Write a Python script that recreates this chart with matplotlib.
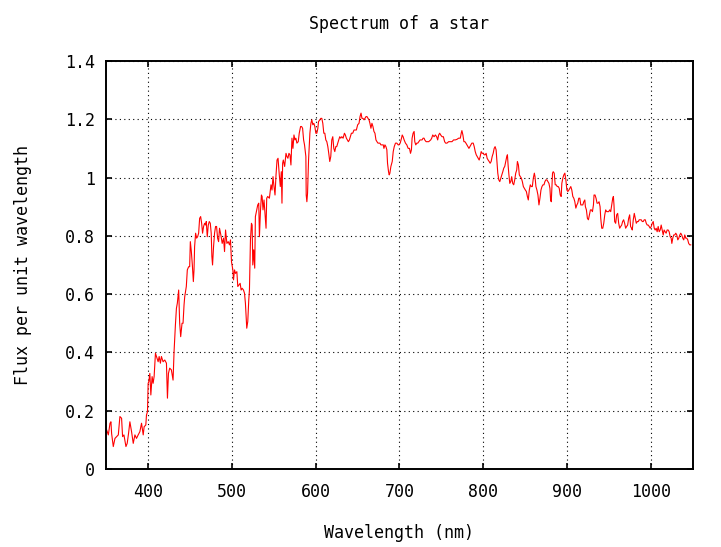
import matplotlib
matplotlib.use("Agg")
import matplotlib.pyplot as plt
from matplotlib.ticker import FixedLocator, FixedFormatter

# spectrum: wavelength (nm) and flux
wavelength = [
    350.8, 352.8, 354.8, 355.9, 356.7, 358.7, 360.7, 362.7, 364.7, 366.6,
    368.6, 369.8, 371.4, 373.8, 375.3, 376.9, 378.5, 380.5, 382.5, 384.5,
    386.4, 388.4, 390.4, 392.4, 394.4, 395.5, 397.5, 398.3, 399.5, 400.3,
    401.1, 402.3, 403.5, 405.0, 406.2, 407.4, 409.0, 410.2, 412.2, 413.4,
    414.9, 416.1, 418.1, 420.1, 422.1, 423.3, 424.5, 426.0, 428.0, 430.0,
    431.2, 432.8, 434.0, 435.1, 436.7, 437.9, 439.1, 440.7, 441.9, 443.1,
    443.9, 445.8, 447.0, 448.6, 449.8, 450.6, 451.8, 453.0, 454.2, 455.0,
    455.7, 456.9, 458.1, 459.3, 460.5, 461.7, 462.9, 464.1, 465.2, 466.4,
    467.6, 468.8, 469.6, 470.8, 472.0, 473.2, 474.4, 475.5, 476.3, 477.1,
    478.3, 479.5, 480.7, 481.9, 483.1, 484.3, 485.4,
    487.0, 488.6, 490.2, 491.4, 492.6, 494.2, 495.8, 497.3, 498.5, 499.7,
    501.3, 502.1, 503.3, 504.5, 506.1, 507.2, 508.4, 510.0, 511.2, 512.4,
    514.0, 515.2, 516.3, 517.9, 519.1, 520.3, 521.1, 522.3, 523.5, 524.3,
    525.1, 526.2, 527.4, 528.2, 529.8, 531.0, 532.2, 533.0, 534.2, 535.4,
    536.2, 537.3, 538.5, 539.7, 540.9, 541.7, 542.9, 544.9, 546.0, 546.8,
    548.0, 549.2, 550.4, 551.6, 552.8, 554.0, 555.2, 556.7, 557.9, 559.1,
    559.9, 560.7, 561.5, 563.1, 564.7, 565.8, 567.0, 568.2, 569.4, 570.6,
    571.8, 573.0, 574.2, 575.4, 576.5, 577.7, 579.3, 580.5, 582.1, 583.3,
    584.5, 585.7, 586.8, 588.4,
    588.8, 589.6, 590.4, 591.6, 593.2, 594.4, 595.5, 596.7, 597.9, 599.1,
    600.3, 601.5, 602.7, 603.5, 605.1, 606.2, 607.4, 608.6, 609.8, 611.0,
    612.2, 613.4, 614.6, 615.7, 616.9, 618.1, 619.3, 620.5, 621.7, 622.9,
    624.1, 625.2, 626.4, 627.6, 628.8, 630.0, 631.2, 632.8, 634.4, 635.5,
    636.7, 637.9, 639.1, 640.3, 641.5, 642.7, 644.3, 645.8, 647.0, 648.6,
    650.2, 651.8, 653.0, 654.2, 655.3, 656.5, 657.7, 658.9, 660.1, 661.3,
    662.5, 663.7, 664.8, 666.0, 667.2, 668.4, 669.6, 670.8, 672.0, 673.2,
    674.4, 675.5, 676.7, 677.9, 679.5, 680.7, 681.5, 682.7, 683.9, 685.0,
    685.8, 687.0, 687.8, 688.6, 689.8, 691.4, 692.6, 693.8, 695.3, 696.9,
    698.5,
    699.3, 700.9, 702.5, 703.3, 704.4, 705.6, 707.2, 708.8, 710.4, 712.0,
    713.2, 714.3, 715.1, 716.3, 717.5, 718.3, 719.5, 720.7, 721.9, 723.1,
    724.6, 725.8, 727.0, 728.2, 729.4, 730.2, 731.8, 733.0, 734.9, 737.3,
    738.5, 739.7, 741.3, 742.9, 744.4, 745.6, 746.8, 748.0, 749.2, 750.8,
    752.4, 753.9, 755.1, 756.7, 758.7, 760.7, 762.7, 764.6, 766.6, 768.6,
    770.6, 772.6, 773.7, 774.5, 775.7, 776.9, 778.1, 779.3, 780.5, 781.7,
    782.9, 784.0, 785.2, 786.4, 788.0, 789.2, 790.4, 791.6, 792.8, 793.9,
    795.1, 796.3, 797.5, 798.7, 799.9, 801.1, 802.3, 803.4, 804.6, 805.8,
    807.0, 808.2, 809.4, 810.6, 811.8, 813.0, 814.1, 815.3, 816.5, 817.3,
    818.5, 819.7, 820.9, 822.1, 823.3, 824.4, 825.6, 826.8, 828.0, 828.8,
    829.6,
    830.4, 831.6, 832.8, 833.9, 835.1, 836.3, 837.5, 838.7, 839.9, 840.7,
    841.9, 843.0, 844.2, 845.4, 846.6, 847.8, 849.0, 850.2, 851.4, 852.6,
    853.7, 854.9, 856.1, 857.3, 858.5, 859.7, 860.9, 861.7, 862.8, 864.0,
    865.2, 866.4, 867.6, 868.8, 870.0, 871.2, 872.4, 873.5, 874.7, 875.9,
    877.1, 878.3, 879.5, 880.3, 881.1, 881.9, 882.6, 883.4, 884.6, 885.8,
    887.0, 888.2, 889.4, 890.6, 891.8, 892.9, 893.7, 894.9, 896.1, 897.3,
    898.5, 899.7, 900.9, 902.1, 903.2, 904.4, 905.6, 906.8, 908.0, 909.2,
    910.4, 911.6, 912.7, 913.9, 915.1, 916.3, 917.5, 918.7, 919.9, 921.1,
    921.8, 923.0, 924.2, 925.4, 926.6, 927.8, 929.0, 930.2, 931.4, 932.1,
    933.3, 934.5, 935.7, 936.9,
    938.1, 939.3, 940.1, 941.3, 942.5, 943.7, 944.9, 946.0, 947.2, 948.4,
    949.6, 950.8, 952.0, 953.2, 954.4, 955.2, 955.9, 956.7, 957.9, 959.1,
    960.3, 961.5, 962.7, 963.9, 965.1, 966.2, 967.4, 968.6, 969.8, 971.0,
    972.2, 973.4, 974.6, 975.7, 976.9, 977.7, 978.9, 980.1, 981.3, 982.5,
    983.7, 984.9, 986.0, 987.2, 988.4, 989.6, 990.8, 992.0, 993.2, 994.4,
    995.5, 996.7, 997.9, 999.1, 1000.3, 1001.5, 1002.7, 1003.9, 1005.0, 1006.2,
    1007.4, 1008.6, 1009.8, 1011.0, 1012.2, 1013.4, 1014.6, 1015.7, 1016.9, 1018.1,
    1019.3, 1020.5, 1021.7, 1022.9, 1024.1, 1024.9, 1026.0, 1027.2, 1028.4, 1029.6,
    1030.8, 1032.0, 1033.2, 1034.4, 1035.5, 1036.7, 1037.9, 1039.1, 1040.3, 1041.5,
    1042.7, 1043.9, 1045.0, 1046.2, 1047.4,
]

flux = [
    0.134, 0.117, 0.157, 0.162, 0.122, 0.077, 0.105, 0.111, 0.117, 0.180,
    0.174, 0.111, 0.117, 0.077, 0.088, 0.122, 0.162, 0.128, 0.088, 0.117,
    0.105, 0.117, 0.128, 0.157, 0.117, 0.145, 0.151, 0.185, 0.197, 0.294,
    0.300, 0.328, 0.254, 0.317, 0.294, 0.317, 0.397, 0.386, 0.368, 0.386,
    0.363, 0.386, 0.368, 0.374, 0.363, 0.243, 0.328, 0.346, 0.340, 0.305,
    0.403, 0.494, 0.551, 0.569, 0.614, 0.500, 0.454, 0.500, 0.500, 0.563,
    0.591, 0.626, 0.683, 0.694, 0.694, 0.780, 0.746, 0.700, 0.643, 0.683,
    0.763, 0.809, 0.792, 0.797, 0.809, 0.860, 0.866, 0.843, 0.809, 0.832,
    0.843, 0.837, 0.849, 0.797, 0.837, 0.849, 0.843, 0.809, 0.729, 0.700,
    0.763, 0.809, 0.832, 0.832, 0.792, 0.780, 0.826,
    0.803, 0.774, 0.792, 0.746, 0.820, 0.774, 0.780, 0.769, 0.786, 0.711,
    0.683, 0.649, 0.683, 0.671, 0.677, 0.626, 0.631, 0.637, 0.614, 0.620,
    0.614, 0.603, 0.569, 0.483, 0.506, 0.580, 0.614, 0.786, 0.843, 0.837,
    0.700, 0.752, 0.689, 0.866, 0.889, 0.906, 0.912, 0.797, 0.883, 0.940,
    0.935, 0.889, 0.923, 0.872, 0.826, 0.929, 0.935, 0.929, 0.957, 0.975,
    0.957, 1.003, 0.969, 0.940, 1.009, 1.060, 1.066, 1.009, 0.969, 1.020,
    0.912, 1.049, 1.060, 1.038, 1.083, 1.072, 1.066, 1.083, 1.078, 1.043,
    1.135, 1.100, 1.146, 1.129, 1.135, 1.118, 1.123, 1.152, 1.175, 1.175,
    1.169, 1.129, 1.112, 1.072,
    0.940, 0.917, 0.946, 1.060, 1.152, 1.186, 1.198, 1.181, 1.186, 1.175,
    1.152, 1.152, 1.169, 1.192, 1.198, 1.203, 1.203, 1.186, 1.152, 1.152,
    1.129, 1.123, 1.106, 1.083, 1.055, 1.072, 1.129, 1.140, 1.100, 1.089,
    1.106, 1.106, 1.118, 1.129, 1.140, 1.135, 1.140, 1.135, 1.152, 1.146,
    1.135, 1.129, 1.123, 1.129, 1.140, 1.152, 1.152, 1.163, 1.163, 1.163,
    1.181, 1.186, 1.209, 1.221, 1.203, 1.203, 1.198, 1.203, 1.209, 1.209,
    1.203, 1.198, 1.186, 1.169, 1.186, 1.175, 1.158, 1.152, 1.129, 1.123,
    1.118, 1.118, 1.118, 1.112, 1.112, 1.112, 1.100, 1.112, 1.106, 1.095,
    1.049, 1.020, 1.009, 1.015, 1.038, 1.055, 1.089, 1.106, 1.118, 1.118,
    1.112,
    1.112, 1.118, 1.135, 1.146, 1.140, 1.129, 1.118, 1.112, 1.100, 1.100,
    1.083, 1.095, 1.135, 1.152, 1.158, 1.123, 1.112, 1.118, 1.118, 1.123,
    1.129, 1.129, 1.129, 1.135, 1.135, 1.129, 1.123, 1.123, 1.123, 1.129,
    1.135, 1.146, 1.140, 1.146, 1.140, 1.129, 1.146, 1.152, 1.146, 1.140,
    1.140, 1.123, 1.118, 1.118, 1.123, 1.123, 1.123, 1.129, 1.129, 1.131,
    1.135, 1.135, 1.152, 1.161, 1.146, 1.123, 1.123, 1.118, 1.112, 1.106,
    1.100, 1.106, 1.112, 1.118, 1.118, 1.106, 1.089, 1.078, 1.072, 1.066,
    1.060, 1.072, 1.089, 1.083, 1.083, 1.078, 1.078, 1.083, 1.066, 1.060,
    1.055, 1.049, 1.055, 1.072, 1.083, 1.100, 1.106, 1.095, 1.049, 1.015,
    0.992, 0.986, 0.998, 1.009, 1.020, 1.032, 1.038, 1.055, 1.072, 1.078,
    1.043,
    1.015, 0.980, 0.986, 1.003, 0.980, 0.975, 0.992, 1.015, 1.026, 1.055,
    1.043, 1.009, 1.003, 0.998, 0.986, 0.969, 0.963, 0.957, 0.952, 0.935,
    0.923, 0.957, 0.975, 0.969, 0.969, 0.998, 1.015, 1.003, 0.969, 0.957,
    0.940, 0.906, 0.929, 0.957, 0.969, 0.975, 0.975, 0.986, 0.992, 0.992,
    0.986, 0.980, 0.963, 0.923, 0.917, 0.969, 1.015, 1.020, 1.015, 0.975,
    0.975, 0.969, 0.969, 0.963, 0.940, 0.935, 0.980, 0.998, 1.009, 1.015,
    0.992, 0.957, 0.952, 0.957, 0.963, 0.969, 0.957, 0.935, 0.929, 0.917,
    0.895, 0.906, 0.912, 0.929, 0.929, 0.906, 0.906, 0.906, 0.917, 0.923,
    0.900, 0.889, 0.860, 0.855, 0.872, 0.889, 0.889, 0.883, 0.906, 0.940,
    0.940, 0.929, 0.912, 0.912,
    0.917, 0.900, 0.860, 0.826, 0.826, 0.843, 0.872, 0.889, 0.883, 0.883,
    0.883, 0.889, 0.883, 0.906, 0.929, 0.935, 0.906, 0.849, 0.843, 0.872,
    0.877, 0.843, 0.826, 0.832, 0.837, 0.849, 0.855, 0.843, 0.826, 0.832,
    0.837, 0.860, 0.872, 0.832, 0.826, 0.820, 0.855, 0.877, 0.860, 0.843,
    0.849, 0.849, 0.855, 0.855, 0.855, 0.849, 0.849, 0.855, 0.855, 0.843,
    0.837, 0.837, 0.832, 0.826, 0.832, 0.843, 0.849, 0.826, 0.820, 0.826,
    0.814, 0.832, 0.814, 0.820, 0.837, 0.820, 0.803, 0.820, 0.814, 0.809,
    0.820, 0.820, 0.814, 0.797, 0.792, 0.774, 0.792, 0.803, 0.803, 0.809,
    0.803, 0.786, 0.792, 0.803, 0.809, 0.803, 0.792, 0.786, 0.803, 0.792,
    0.792, 0.786, 0.774, 0.769, 0.769,
]

x_ticks = [400, 500, 600, 700, 800, 900, 1000]
y_ticks = [0, 0.2, 0.4, 0.6, 0.8, 1.0, 1.2, 1.4]
y_tick_labels = ["0", "0.2", "0.4", "0.6", "0.8", "1", "1.2", "1.4"]

plt.rcParams["font.family"] = ["DejaVu Sans Mono"]
plt.rcParams["font.size"] = 12

fig = plt.figure(figsize=(7.21, 5.47), dpi=100)
ax = fig.add_axes([0.147, 0.1426, 0.814, 0.746])

ax.plot(wavelength, flux, color="red", linewidth=0.8)

ax.set_xlim(350, 1050)
ax.set_ylim(0, 1.4)
ax.xaxis.set_major_locator(FixedLocator(x_ticks))
ax.yaxis.set_major_locator(FixedLocator(y_ticks))
ax.yaxis.set_major_formatter(FixedFormatter(y_tick_labels))

ax.grid(True, color="black", linestyle=(0, (1, 3)), linewidth=0.8)
ax.tick_params(direction="in", length=4, width=1.2, top=True, right=True,
               labelsize=12, pad=8)
ax.tick_params(axis="x", pad=10)
for s in ax.spines.values():
    s.set_linewidth(1.4)

ax.set_title("Spectrum of a star", fontsize=12, pad=23)
ax.set_xlabel("Wavelength (nm)", fontsize=12, labelpad=17)
ax.set_ylabel("Flux per unit wavelength", fontsize=12, labelpad=24)

fig.savefig("out.png", dpi=100)
